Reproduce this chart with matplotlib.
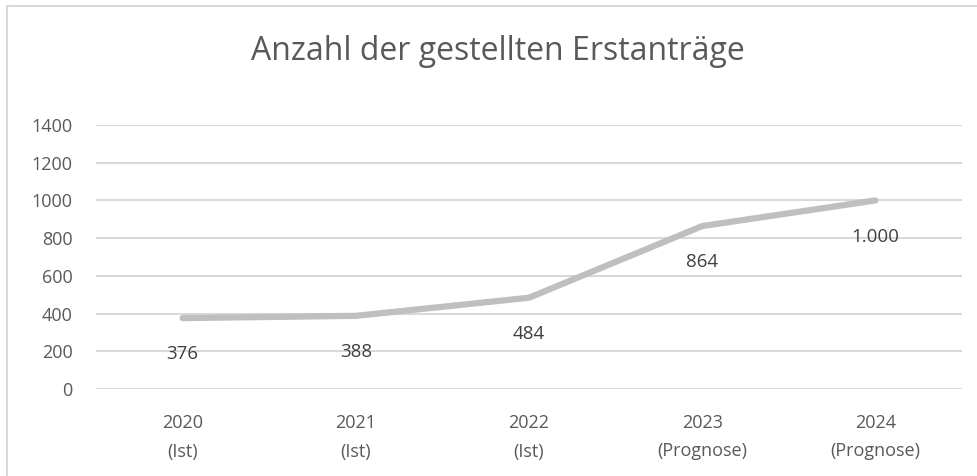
import matplotlib.pyplot as plt
from matplotlib.patches import Rectangle

# data
categories = ["2020\n(Ist)", "2021\n(Ist)", "2022\n(Ist)", "2023\n(Prognose)", "2024\n(Prognose)"]
values = [376, 388, 484, 864, 1000]
value_labels = ["376", "388", "484", "864", "1.000"]
y_ticks = [0, 200, 400, 600, 800, 1000, 1200, 1400]

W, H = 978, 476
text_color = "#595959"
plt.rcParams['font.family'] = ['Open Sans', 'DejaVu Sans']

fig = plt.figure(figsize=(W / 100, H / 100), dpi=100)

# outer chart border (right/bottom run off the image)
fig.patches.append(Rectangle((7 / W, -0.05), 1.2, 1 - 6 / H + 0.05,
                             transform=fig.transFigure, fill=False,
                             edgecolor="#D9D9D9", linewidth=1.5))

ax = fig.add_axes([96 / W, 1 - 389 / H, (962 - 96) / W, (389 - 125) / H])

x = list(range(len(categories)))
ax.plot(x, values, color="#BFBFBF", linewidth=4.5, solid_capstyle="round", zorder=3)

for xi, v, lab in zip(x, values, value_labels):
    ax.annotate(lab, (xi, v), xytext=(0, -26), textcoords="offset points",
                ha="center", va="center", fontsize=13.5, color="#404040", zorder=4)

ax.set_xlim(-0.5, len(categories) - 0.5)
ax.set_ylim(0, 1400)
ax.set_yticks(y_ticks)
ax.set_xticks(x)
ax.set_xticklabels(categories, linespacing=1.75)
ax.grid(axis="y", color="#D9D9D9", linewidth=1.5, zorder=0)
ax.set_axisbelow(True)
for s in ax.spines.values():
    s.set_visible(False)
ax.tick_params(axis="both", length=0, labelsize=13, colors=text_color)
ax.tick_params(axis="y", pad=17)
ax.tick_params(axis="x", pad=18)

fig.text(498 / W, 1 - 52 / H, "Anzahl der gestellten Erstanträge", ha="center", va="center",
         fontsize=23, color=text_color)

fig.savefig("out.png", dpi=100)
